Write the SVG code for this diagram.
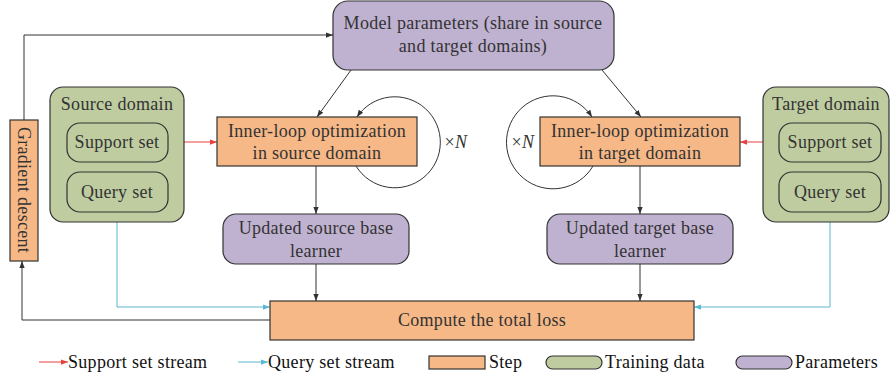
<svg xmlns="http://www.w3.org/2000/svg" width="892" height="379" viewBox="0 0 892 379" font-family="'Liberation Serif', 'Times New Roman', 'DejaVu Serif', serif">
<style>
text{font-family:'Liberation Serif','Times New Roman','DejaVu Serif',serif;font-size:18px;letter-spacing:0.3px;fill:#333;text-anchor:middle;dominant-baseline:central}
.step{fill:#F6B886;stroke:#333;stroke-width:1.2}
.data{fill:#BECCA0;stroke:#333;stroke-width:1.2}
.param{fill:#BFB1D0;stroke:#333;stroke-width:1.2}
.k{fill:none;stroke:#333;stroke-width:1}
.r{fill:none;stroke:#E8413C;stroke-width:1}
.b{fill:none;stroke:#5BB8D0;stroke-width:1}
.lg{text-anchor:start;fill:#111}
</style>
<defs>
<marker id="ak" viewBox="0 0 8 8" refX="8" refY="4" markerWidth="7" markerHeight="7" markerUnits="userSpaceOnUse" orient="auto"><path d="M0,1 L8,4 L0,7 Z" fill="#333"/></marker>
<marker id="ar" viewBox="0 0 8 8" refX="8" refY="4" markerWidth="7" markerHeight="7" markerUnits="userSpaceOnUse" orient="auto"><path d="M0,1 L8,4 L0,7 Z" fill="#E8413C"/></marker>
<marker id="ab" viewBox="0 0 8 8" refX="8" refY="4" markerWidth="7" markerHeight="7" markerUnits="userSpaceOnUse" orient="auto"><path d="M0,1 L8,4 L0,7 Z" fill="#5BB8D0"/></marker>
</defs>
<g id="connectors">
<path class="k" d="M24,120 V35 H333" marker-end="url(#ak)"/>
<path class="k" d="M351,70 L317,117" marker-end="url(#ak)"/>
<path class="k" d="M602,70 L641,117" marker-end="url(#ak)"/>
<path class="k" d="M356,166 A45.5 45.5 0 1 0 357,117" marker-end="url(#ak)"/>
<path class="k" d="M593,166 A46.5 46.5 0 1 1 592,117" marker-end="url(#ak)"/>
<path class="r" d="M168,142 H217" marker-end="url(#ar)"/>
<path class="r" d="M779,142 H740" marker-end="url(#ar)"/>
<path class="k" d="M316,166 V214" marker-end="url(#ak)"/>
<path class="k" d="M316,264 V301" marker-end="url(#ak)"/>
<path class="k" d="M640,166 V214" marker-end="url(#ak)"/>
<path class="k" d="M640,264 V301" marker-end="url(#ak)"/>
<path class="b" d="M117,212 V307 H270" marker-end="url(#ab)"/>
<path class="b" d="M830,212 V307 H694" marker-end="url(#ab)"/>
<path class="k" d="M270,320 H22 V261" marker-end="url(#ak)"/>
</g>
<g id="model-params">
<rect class="param" x="333" y="1" width="281" height="69" rx="15"/>
<text x="473" y="23">Model parameters (share in source</text>
<text x="473" y="46">and target domains)</text>
</g>
<g id="gradient-descent">
<rect class="step" x="10" y="120" width="28" height="141"/>
<text transform="translate(24,190) rotate(90)">Gradient descent</text>
</g>
<g id="source-domain">
<rect class="data" x="50" y="87" width="134" height="135" rx="13"/>
<text x="117" y="104">Source domain</text>
</g>
<g id="source-support">
<rect class="data" x="67" y="123" width="101" height="39" rx="13"/>
<text x="117" y="142">Support set</text>
</g>
<g id="source-query">
<rect class="data" x="67" y="172" width="101" height="40" rx="13"/>
<text x="117" y="192">Query set</text>
</g>
<g id="inner-source">
<rect class="step" x="217" y="117" width="200" height="49"/>
<text x="317" y="131">Inner-loop optimization</text>
<text x="317" y="153">in source domain</text>
</g>
<g id="xn-source"><text x="456" y="142">×<tspan font-style="italic">N</tspan></text></g>
<g id="inner-target">
<rect class="step" x="540" y="117" width="200" height="49"/>
<text x="640" y="131">Inner-loop optimization</text>
<text x="640" y="153">in target domain</text>
</g>
<g id="xn-target"><text x="523" y="142">×<tspan font-style="italic">N</tspan></text></g>
<g id="target-domain">
<rect class="data" x="763" y="87" width="126" height="135" rx="13"/>
<text x="826" y="104">Target domain</text>
</g>
<g id="target-support">
<rect class="data" x="779" y="123" width="102" height="39" rx="13"/>
<text x="830" y="142">Support set</text>
</g>
<g id="target-query">
<rect class="data" x="779" y="172" width="102" height="40" rx="13"/>
<text x="830" y="192">Query set</text>
</g>
<g id="updated-source">
<rect class="param" x="223" y="214" width="186" height="50" rx="13"/>
<text x="316" y="228">Updated source base</text>
<text x="316" y="251">learner</text>
</g>
<g id="updated-target">
<rect class="param" x="547" y="214" width="186" height="50" rx="13"/>
<text x="640" y="228">Updated target base</text>
<text x="640" y="251">learner</text>
</g>
<g id="total-loss">
<rect class="step" x="270" y="301" width="424" height="39"/>
<text x="482" y="320">Compute the total loss</text>
</g>
<g id="legend">
<path class="r" d="M39,362 H68" marker-end="url(#ar)"/>
<text class="lg" x="68" y="362">Support set stream</text>
<path class="b" d="M238,362 H268" marker-end="url(#ab)"/>
<text class="lg" x="268" y="362">Query set stream</text>
<rect class="step" x="429" y="356" width="56" height="13"/>
<text class="lg" x="489" y="362">Step</text>
<rect class="data" x="546" y="356" width="56" height="13" rx="6.5"/>
<text class="lg" x="605" y="362">Training data</text>
<rect class="param" x="736" y="356" width="56" height="13" rx="6.5"/>
<text class="lg" x="795" y="362">Parameters</text>
</g>
</svg>
